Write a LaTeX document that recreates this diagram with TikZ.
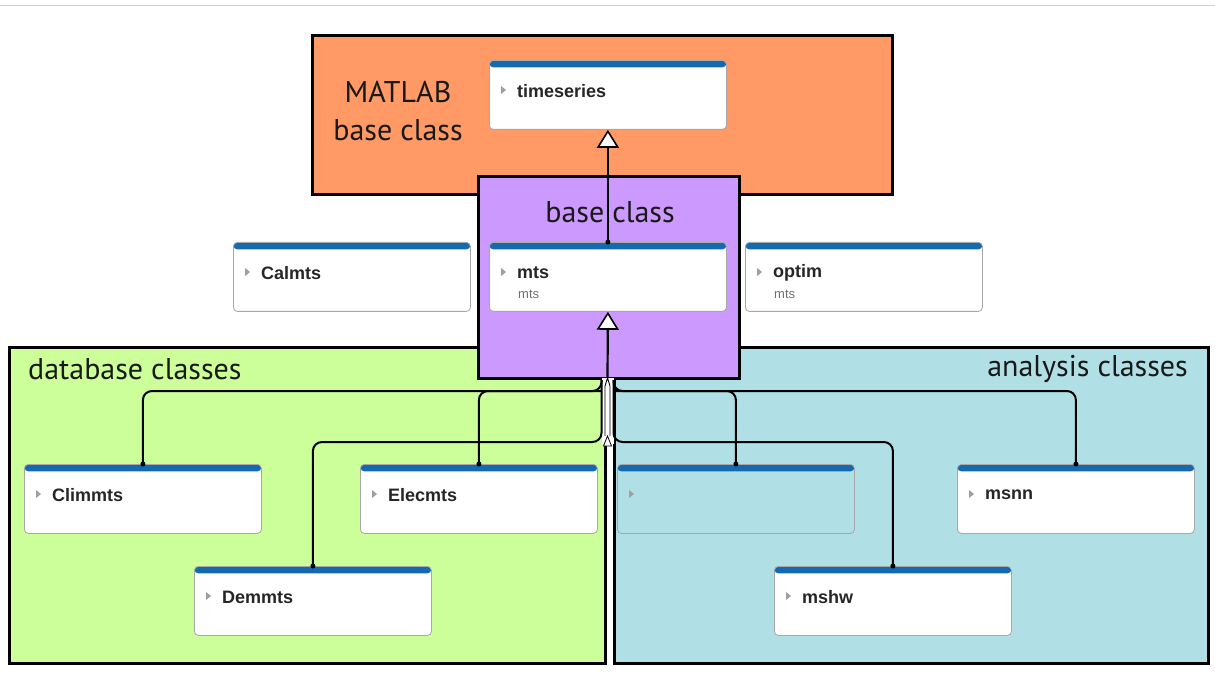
\documentclass[tikz,border=0pt]{standalone}
\usepackage{fontspec}
\setmainfont{Liberation Sans}
\newfontfamily\labfont{PT Sans}
\usetikzlibrary{arrows.meta}
\definecolor{orangebg}{HTML}{FF9966}
\definecolor{purplebg}{HTML}{CC99FF}
\definecolor{greenbg}{HTML}{CCFF99}
\definecolor{bluebg}{HTML}{B0E0E6}
\definecolor{barblue}{HTML}{1469B0}
\definecolor{cardline}{HTML}{A8A8A8}
\definecolor{titletext}{HTML}{262626}
\definecolor{subtext}{HTML}{707070}
\tikzset{
  group/.style={draw=black, line width=3pt},
  grouplabel/.style={font=\labfont\fontsize{30}{38}\selectfont, text=black!90, inner sep=0pt, align=center},
  card/.style={draw=cardline, line width=0.8pt, fill=white, rounded corners=4pt,
    minimum width=237pt, minimum height=69pt, inner sep=0pt, anchor=north west,
    path picture={\fill[barblue] (path picture bounding box.north west) rectangle ([yshift=-7pt]path picture bounding box.north east);}},
  cardtitle/.style={font=\bfseries\fontsize{18}{20}\selectfont, text=titletext, inner sep=0pt, anchor=west},
  cardsub/.style={font=\fontsize{13}{15}\selectfont, text=subtext, inner sep=0pt, anchor=west},
  marker/.style={fill=gray!75},
  conn/.style={draw=black, line width=2pt, rounded corners=9pt},
  dot/.style={circle, fill=black, inner sep=0pt, minimum size=5pt},
  inherit/.style={draw=black, line width=2.2pt, -{Triangle[fill=white, length=18pt, width=22pt, line width=1.6pt]}}
}
\newcommand\umlcard[6][]{%
  \node[card,#1] (#2) at (#3,#4) {};
  \fill[marker] ([shift={(12,26)}]#2.north west) -- ++(0,8) -- ++(5,-4) -- cycle;
  \node[cardtitle] (#2t) at ([shift={(28,31)}]#2.north west) {#5};
  \node[cardsub] (#2s) at ([shift={(29,52)}]#2.north west) {#6};
}
\begin{document}
\begin{tikzpicture}[x=1pt, y=-1pt]
\useasboundingbox (0,0) rectangle (1215,684);
\fill[white] (0,0) rectangle (1215,684);
\draw[gray!35, line width=1pt] (0,6) -- (1215,6);

% MATLAB base class
\draw[group, fill=orangebg] (312,36) rectangle (892,195);
\node[grouplabel] (lmatlab) at (398,111) {MATLAB\\base class};
\umlcard{ts}{489}{60}{timeseries}{}

% database and analysis groups
\draw[group, fill=greenbg] (9,348) rectangle (605,663);
\draw[group, fill=bluebg] (614,348) rectangle (1208,663);
\node[grouplabel, anchor=west] (ldb) at (28,369) {database classes};
\node[grouplabel, anchor=east] (lan) at (1188,369) {analysis classes};

% base class
\draw[group, fill=purplebg] (478,177) rectangle (739,378);
\node[grouplabel] (lbase) at (610,212) {base class};
\umlcard{mts}{489}{242}{mts}{mts}

\umlcard{calmts}{233}{242}{Calmts}{}
\umlcard{optim}{745}{242}{optim}{mts}

% children
\umlcard{clim}{24}{464}{Climmts}{}
\umlcard{elec}{360}{464}{Elecmts}{}
\umlcard{dem}{194}{566}{Demmts}{}
\umlcard[fill=bluebg]{blank}{617}{464}{}{}
\umlcard{msnn}{957}{464}{msnn}{}
\umlcard{mshw}{774}{566}{mshw}{}

% junction channel
\coordinate (jC) at (607.5,378);
\coordinate (jL) at (601.5,380);
\coordinate (jR) at (613.5,380);
\fill[white] (601.5,378) rectangle (613.5,444);

\draw[conn] (clim.north) -- (clim.north |- 0,391) -- (601.5,391) -- (jL);
\draw[conn] (elec.north) -- (elec.north |- 0,391) -- (601.5,391);
\draw[conn] (dem.north) -- (dem.north |- 0,442) -- (601.5,442) -- (jL);
\draw[conn] (blank.north) -- (blank.north |- 0,391) -- (613.5,391) -- (jR);
\draw[conn] (msnn.north) -- (msnn.north |- 0,391) -- (613.5,391);
\draw[conn] (mshw.north) -- (mshw.north |- 0,442) -- (613.5,442) -- (jR);
\draw[black, line width=0.9pt] (605,436) -- (605,386) -- (jC) -- (610,386) -- (610,436);
\fill[white, draw=black, line width=0.8pt] (603.5,446) -- (607.5,436) -- (611.5,446) -- cycle;

\foreach \n in {clim,elec,dem,blank,msnn,mshw} \node[dot] (\n d) at (\n.north) {};

% inheritance arrows
\node[dot] (mtsd) at (mts.north) {};
\draw[inherit] (mts.north) -- (ts.south);
\draw[inherit] (jC) -- (mts.south);
\end{tikzpicture}
\end{document}
